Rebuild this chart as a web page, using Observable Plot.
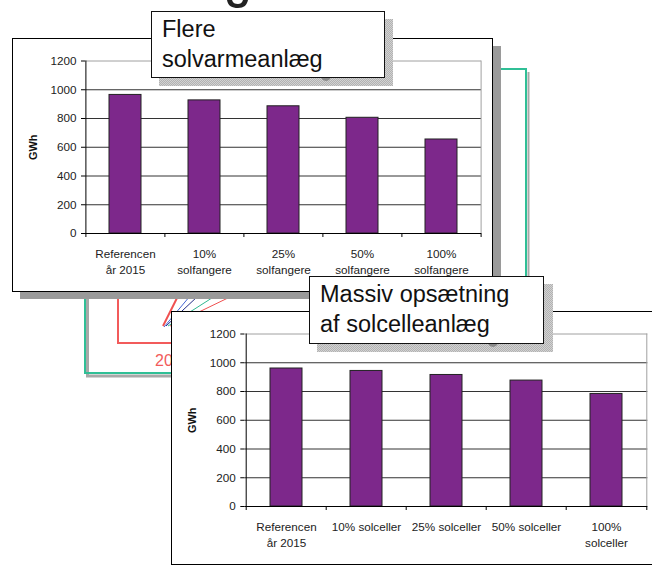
<!DOCTYPE html>
<html>
<head>
<meta charset="utf-8">
<script src="https://cdn.jsdelivr.net/npm/d3@7"></script>
<script src="https://cdn.jsdelivr.net/npm/@observablehq/plot@0.6"></script>
<style>
  html, body { margin: 0; padding: 0; background: #fff; }
  #stage { position: relative; width: 652px; height: 565px; overflow: hidden; background: #fff;
           font-family: "Liberation Sans", Arial, sans-serif; }
  .abs { position: absolute; box-sizing: border-box; }
  .panel { background: #fff; border: 1px solid #000; }
  .pshadow { background: #9a9a9a; }
  .tshadow { background: repeating-conic-gradient(#b2b2b2 0 25%, #d2d2d2 0 50%) 0 0 / 2px 2px; }
  .tbox { background: #fff; border: 1.5px solid #111; color: #111; font-size: 23.5px; line-height: 30px;
          padding: 2.4px 0 0 10px; white-space: nowrap; }
  .chart svg { display: block; }
</style>
</head>
<body>
<div id="stage">
  <svg class="abs" style="left:0;top:0" width="652" height="565">
    <path d="M227,0 C228,6 232,8 238,8 C244,8 247,5 248,0 L243,0 C242,3 240,4 238,4 C235,4 233,3 232,0 Z" fill="#222"/>
    <polyline points="87.5,299 87.5,376 175,376" fill="none" stroke="#a8a8a8" stroke-width="3"/>
    <polyline points="85,299 85,373 175,373" fill="none" stroke="#30bf96" stroke-width="2"/>
    <polyline points="118,299 118,343 175,343" fill="none" stroke="#f25b5b" stroke-width="2"/>
    <text x="155" y="366" font-size="16" fill="#f25b5b" font-family="Liberation Sans, Arial, sans-serif">2030</text>
    <line x1="163" y1="326" x2="178" y2="296" stroke="#f05050" stroke-width="2"/>
    <line x1="164" y1="327" x2="190" y2="296" stroke="#4464d4" stroke-width="1"/>
    <line x1="166" y1="326" x2="198" y2="296" stroke="#232c86" stroke-width="1"/>
    <line x1="168" y1="326" x2="215" y2="296" stroke="#30b890" stroke-width="1"/>
    <line x1="170" y1="326" x2="232" y2="296" stroke="#f05050" stroke-width="1"/>
    <line x1="528.5" y1="72" x2="528.5" y2="280" stroke="#a8a8a8" stroke-width="2"/>
    <polyline points="501,69 526,69 526,280" fill="none" stroke="#30bf96" stroke-width="2"/>
  </svg>

  <div class="abs pshadow" style="left:20px;top:46px;width:481px;height:253px"></div>
  <div class="abs panel" style="left:12px;top:38px;width:481px;height:254px"></div>
  <div class="abs chart" id="chart1" style="left:12px;top:38px"></div>

  <div class="abs tshadow" style="left:159px;top:19px;width:234px;height:67px"></div>
  <svg class="abs" style="left:0;top:0" width="652" height="565">
    <circle cx="326" cy="76" r="5" fill="#8a8a8a"/>
  </svg>
  <div class="abs tbox" style="left:151px;top:11px;width:234px;height:67px">Flere<br>solvarmeanlæg</div>

  <div class="abs panel" style="left:171px;top:311px;width:500px;height:254px"></div>
  <div class="abs chart" id="chart2" style="left:171px;top:311px"></div>

  <div class="abs tshadow" style="left:317px;top:284px;width:236px;height:68px"></div>
  <svg class="abs" style="left:0;top:0" width="652" height="565">
    <circle cx="493" cy="342" r="5" fill="#8a8a8a"/>
  </svg>
  <div class="abs tbox" style="left:309px;top:276px;width:235px;height:68px">Massiv opsætning<br>af solcelleanlæg</div>
</div>

<script>
// ---- data ----
const categories1 = ["Referencen år 2015", "10% solfangere", "25% solfangere", "50% solfangere", "100% solfangere"];
const tickLabels1 = ["Referencen\når 2015", "10%\nsolfangere", "25%\nsolfangere", "50%\nsolfangere", "100%\nsolfangere"];
const values1 = [964, 926, 885, 805, 654];

const categories2 = ["Referencen år 2015", "10% solceller", "25% solceller", "50% solceller", "100% solceller"];
const tickLabels2 = ["Referencen\når 2015", "10% solceller", "25% solceller", "50% solceller", "100%\nsolceller"];
const values2 = [960, 943, 915, 876, 783];

const yTicks = [0, 200, 400, 600, 800, 1000, 1200];
const yLabel = "GWh";

function makeChart(cats, labels, vals, width, height, margins) {
  const {ml, mr, mt, mb} = margins;
  const step = (width - ml - mr) / cats.length;
  const data = cats.map((c, i) => ({cat: c, label: labels[i], value: vals[i]}));
  const last = cats[cats.length - 1];
  return Plot.plot({
    width, height,
    marginLeft: ml, marginRight: mr, marginTop: mt, marginBottom: mb,
    style: {fontFamily: "Liberation Sans, Arial, sans-serif", fontSize: "11.7px", color: "#222",
            background: "transparent", overflow: "visible"},
    x: {domain: cats, paddingInner: 0.6, paddingOuter: 0.3, axis: null},
    y: {domain: [0, 1200]},
    marks: [
      Plot.ruleY(yTicks.slice(1, -1), {stroke: "#333", strokeWidth: 1}),
      Plot.ruleY([1200], {stroke: "#a0a0a0", strokeWidth: 1}),
      Plot.ruleX([last], {x: d => d, dx: step / 2, y1: 0, y2: 1200, stroke: "#a0a0a0"}),
      Plot.barY(data, {x: "cat", y: "value", fill: "#7d288b", stroke: "#222", strokeWidth: 1}),
      Plot.ruleX([cats[0]], {x: d => d, dx: -step / 2, y1: 0, y2: 1200, stroke: "#000"}),
      Plot.ruleY([0], {stroke: "#000"}),
      Plot.ruleX(cats, {x: d => d, dx: -step / 2, y1: 0, y2: 0, insetBottom: -4, stroke: "#000"}),
      Plot.ruleX([last], {x: d => d, dx: step / 2, y1: 0, y2: 0, insetBottom: -4, stroke: "#000"}),
      Plot.axisY({ticks: yTicks, tickFormat: d => String(d), tickSize: 4, tickPadding: 5, label: null,
                  stroke: "#000", fontSize: 11.7, fill: "#222"}),
      Plot.text(data, {x: "cat", text: "label", frameAnchor: "bottom", lineAnchor: "top",
                       dy: 13, lineHeight: 1.36, fill: "#222", fontSize: 11.7}),
      Plot.text([yLabel], {frameAnchor: "left", text: d => d, rotate: -90, dx: -52,
                           textAnchor: "middle", lineAnchor: "middle", fontWeight: "bold",
                           fontSize: 11, fill: "#111"})
    ]
  });
}

document.getElementById("chart1").appendChild(
  makeChart(categories1, tickLabels1, values1, 481, 254, {ml: 73, mr: 12, mt: 22.5, mb: 59}));
document.getElementById("chart2").appendChild(
  makeChart(categories2, tickLabels2, values2, 481, 254, {ml: 73.3, mr: 4.7, mt: 22.5, mb: 59}));
</script>
</body>
</html>
